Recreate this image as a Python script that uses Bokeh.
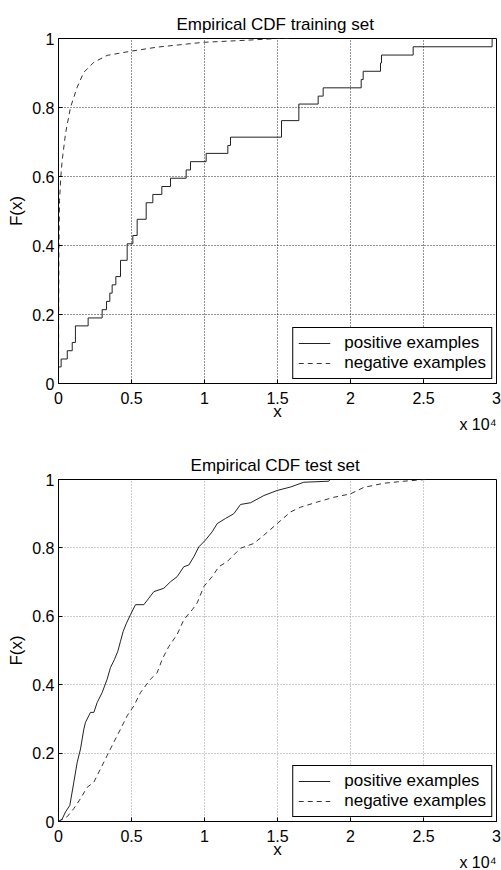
from bokeh.plotting import figure
from bokeh.models import Range1d, FixedTicker, CustomJSTickFormatter, Legend, LegendItem, Title
from bokeh.layouts import column
from bokeh.embed import file_html
from bokeh.resources import INLINE

# ---------------- data ----------------
# training set, positive examples (empirical CDF step points)
train_pos_x = [0, 180, 600, 940, 1160, 2030, 2990, 3290, 3515, 3675, 3927, 4247, 4703, 5091,
               5388, 6005, 6461, 7078, 7671, 8744, 9041, 10114, 11598, 11781, 15274, 16461,
               17785, 18128, 20731, 20868, 22055, 22123, 24292, 29700]
train_pos_y = [0.048, 0.071, 0.095, 0.119, 0.167, 0.190, 0.214, 0.238, 0.262, 0.286, 0.310,
               0.357, 0.405, 0.429, 0.476, 0.524, 0.548, 0.571, 0.595, 0.619, 0.643, 0.667,
               0.690, 0.714, 0.762, 0.810, 0.833, 0.857, 0.881, 0.905, 0.929, 0.952, 0.976, 1.0]

# training set, negative examples
train_neg_x = [0, 10, 30, 70, 160, 250, 480, 820, 1280, 1735, 2420, 3330, 4930, 6760, 9950,
               12900, 15000, 16000]
train_neg_y = [0.0, 0.2, 0.4, 0.53, 0.60, 0.646, 0.724, 0.80, 0.859, 0.902, 0.931, 0.951,
               0.963, 0.975, 0.989, 0.995, 1.0, 1.0]

# test set, positive examples
test_pos_x = [0, 250, 480, 775, 1050, 1280, 1507, 1735, 1850, 2190, 2420, 2650, 2990, 3330,
              3560, 3836, 4064, 4247, 4430, 4658, 4932, 5274, 5845, 6187, 6530, 7215, 7671,
              8128, 8584, 8927, 9269, 9612, 10068, 10525, 10868, 11438, 12009, 12466, 13151,
              14064, 14977, 15890, 16803, 18516, 18600]
test_pos_y = [0.0, 0.007, 0.028, 0.047, 0.115, 0.173, 0.212, 0.270, 0.290, 0.319, 0.319,
              0.348, 0.377, 0.416, 0.450, 0.474, 0.498, 0.527, 0.556, 0.580, 0.605, 0.634,
              0.634, 0.653, 0.672, 0.682, 0.701, 0.716, 0.745, 0.750, 0.774, 0.803, 0.823,
              0.847, 0.871, 0.886, 0.900, 0.927, 0.932, 0.953, 0.968, 0.978, 0.992, 0.995, 1.0]

# test set, negative examples
test_neg_x = [0, 594, 1050, 1507, 1963, 2420, 2877, 3333, 3790, 4247, 4703, 5160, 5616, 6301,
              6758, 7100, 7557, 8128, 8584, 9155, 9498, 9954, 10525, 10982, 11553, 12466,
              13379, 14064, 14977, 15890, 16575, 17717, 18858, 20000, 20913, 22283, 23653,
              25137]
test_neg_y = [0.0, 0.014, 0.038, 0.067, 0.100, 0.115, 0.154, 0.193, 0.232, 0.270, 0.309,
              0.338, 0.377, 0.416, 0.435, 0.474, 0.512, 0.547, 0.590, 0.619, 0.639, 0.687,
              0.716, 0.745, 0.760, 0.799, 0.813, 0.837, 0.871, 0.905, 0.919, 0.934, 0.948,
              0.958, 0.977, 0.989, 0.995, 1.0]

x_ticks = [0, 5000, 10000, 15000, 20000, 25000, 30000]
y_ticks = [0, 0.2, 0.4, 0.6, 0.8, 1.0]
legend_labels = ["positive examples", "negative examples"]
x_scale_note = "x 10\u2074"

FONT = "Liberation Sans"
FS = "16px"
FS_BIG = "17px"


def make_plot(title, height, top, bottom, pos_x, pos_y, neg_x, neg_y, pos_step, grid_color, grid_alpha):
    p = figure(width=501, height=height, output_backend="svg", toolbar_location=None,
               x_range=Range1d(0, 30000), y_range=Range1d(0, 1),
               min_border_left=58, min_border_right=5, min_border_top=top, min_border_bottom=bottom)
    p.title.text = title
    p.title.align = "center"
    p.title.text_font = FONT
    p.title.text_font_size = FS_BIG
    p.title.text_font_style = "normal"
    p.title.text_color = "black"
    p.title.standoff = 10

    p.outline_line_color = "black"
    p.outline_line_width = 1
    p.outline_line_alpha = 1
    p.background_fill_color = "white"
    p.border_fill_color = "white"

    p.xaxis.ticker = FixedTicker(ticks=x_ticks)
    p.yaxis.ticker = FixedTicker(ticks=y_ticks)
    p.xaxis.formatter = CustomJSTickFormatter(code="return (tick/1e4).toString();")
    p.yaxis.formatter = CustomJSTickFormatter(code="return (Math.round(tick*10)/10).toString();")
    for ax in (p.xaxis, p.yaxis):
        ax.major_label_text_font = FONT
        ax.major_label_text_font_size = FS
        ax.major_label_text_color = "black"
        ax.axis_label_text_font = FONT
        ax.axis_label_text_font_size = FS_BIG
        ax.axis_label_text_font_style = "normal"
        ax.axis_label_text_color = "black"
        ax.major_tick_in = 4
        ax.major_tick_out = 0
        ax.minor_tick_line_color = None
        ax.axis_line_color = "black"
        ax.major_tick_line_color = "black"
    p.xaxis.axis_label = "x"
    p.yaxis.axis_label = "F(x)"
    p.xaxis.major_label_standoff = 8
    p.yaxis.major_label_standoff = 4
    p.xaxis.axis_label_standoff = -5
    p.yaxis.axis_label_standoff = 3

    p.xgrid.ticker = FixedTicker(ticks=x_ticks)
    p.ygrid.ticker = FixedTicker(ticks=y_ticks)
    for g in (p.xgrid, p.ygrid):
        g.grid_line_color = grid_color
        g.grid_line_alpha = grid_alpha
        g.grid_line_dash = "1 2"
        g.grid_line_width = 1

    if pos_step:
        r1 = p.step(pos_x, pos_y, mode="after", line_color="#222222", line_width=1)
    else:
        r1 = p.line(pos_x, pos_y, line_color="#222222", line_width=1)
    r2 = p.line(neg_x, neg_y, line_color="#333333", line_width=1, line_dash="5 4")

    legend = Legend(items=[LegendItem(label=legend_labels[0], renderers=[r1]),
                           LegendItem(label=legend_labels[1], renderers=[r2])],
                    location="bottom_right", margin=4, padding=5, spacing=0,
                    label_standoff=14, glyph_width=32, glyph_height=18, label_height=18,
                    border_line_color="black", border_line_width=1.5, border_line_alpha=1,
                    background_fill_color="white", background_fill_alpha=1,
                    label_text_font=FONT, label_text_font_size=FS_BIG, label_text_color="black")
    p.add_layout(legend, "center")

    note = Title(text=x_scale_note, align="right", text_font=FONT, text_font_size=FS,
                 text_font_style="normal", text_color="black", standoff=-19, offset=0)
    p.add_layout(note, "below")
    return p


p1 = make_plot("Empirical CDF  training set", 435, 38, 52,
               train_pos_x, train_pos_y, train_neg_x, train_neg_y, True, "black", 0.85)
p2 = make_plot("Empirical CDF  test set", 435, 44, 49,
               test_pos_x, test_pos_y, test_neg_x, test_neg_y, False, "#9a9a9a", 1.0)

layout = column(p1, p2, spacing=0)
open("out.html", "w").write(file_html(layout, INLINE))
